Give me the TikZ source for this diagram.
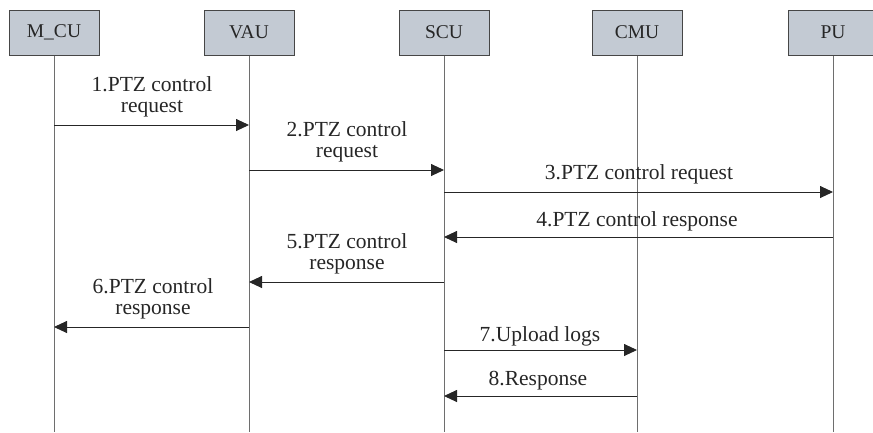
\documentclass[tikz,border=0pt]{standalone}
\usepackage{fontspec}
\setmainfont{Liberation Serif}
\usetikzlibrary{arrows.meta}
\definecolor{boxfill}{RGB}{195,202,211}
\definecolor{boxline}{RGB}{70,70,70}
\definecolor{lifeline}{RGB}{110,110,110}
\begin{document}
\begin{tikzpicture}[x=1pt,y=-1pt,
  entity/.style={draw=boxline,fill=boxfill,line width=1pt,minimum width=90pt,minimum height=45pt,inner sep=0pt,font=\fontsize{19.5}{20}\selectfont,text=black!85},
  life/.style={draw=lifeline,line width=1pt},
  msg/.style={draw=black!85,line width=0.9pt,-{Triangle[length=13pt,width=12pt]}},
  lbl/.style={align=center,inner sep=0pt,font=\fontsize{21.5}{21.5}\selectfont,text=black!85}]
\useasboundingbox (0,0) rectangle (873,432);
\node[entity] (mcu) at (54,32.5) {M\_CU};
\node[entity] (vau) at (249,32.5) {VAU};
\node[entity] (scu) at (444,32.5) {SCU};
\node[entity] (cmu) at (637,32.5) {CMU};
\node[entity] (pu) at (833,32.5) {\raisebox{-3pt}{PU}};
\coordinate (mcuE) at (54,432);
\coordinate (vauE) at (249,432);
\coordinate (scuE) at (444,432);
\coordinate (cmuE) at (637,432);
\coordinate (puE) at (833,432);
\draw[life] (mcu.south) -- (mcuE);
\draw[life] (vau.south) -- (vauE);
\draw[life] (scu.south) -- (scuE);
\draw[life] (cmu.south) -- (cmuE);
\draw[life] (pu.south) -- (puE);
% messages
\coordinate (a1) at (54,125); \coordinate (b1) at (249,125);
\draw[msg] (a1) -- (b1);
\node[lbl] (l1) at (152,97) {1.PTZ control\\request};
\coordinate (a2) at (249,170); \coordinate (b2) at (444,170);
\draw[msg] (a2) -- (b2);
\node[lbl] (l2) at (347,142) {2.PTZ control\\request};
\coordinate (a3) at (444,192); \coordinate (b3) at (833,192);
\draw[msg] (a3) -- (b3);
\node[lbl] (l3) at (639,174) {3.PTZ control request};
\coordinate (a4) at (833,237); \coordinate (b4) at (444,237);
\draw[msg] (a4) -- (b4);
\node[lbl] (l4) at (637,221) {4.PTZ control response};
\coordinate (a5) at (444,282); \coordinate (b5) at (249,282);
\draw[msg] (a5) -- (b5);
\node[lbl] (l5) at (347,254) {5.PTZ control\\response};
\coordinate (a6) at (249,327); \coordinate (b6) at (54,327);
\draw[msg] (a6) -- (b6);
\node[lbl] (l6) at (153,299) {6.PTZ control\\response};
\coordinate (a7) at (444,350); \coordinate (b7) at (637,350);
\draw[msg] (a7) -- (b7);
\node[lbl] (l7) at (540,336) {7.Upload logs};
\coordinate (a8) at (637,396); \coordinate (b8) at (444,396);
\draw[msg] (a8) -- (b8);
\node[lbl] (l8) at (538,381) {8.Response};
\end{tikzpicture}
\end{document}
